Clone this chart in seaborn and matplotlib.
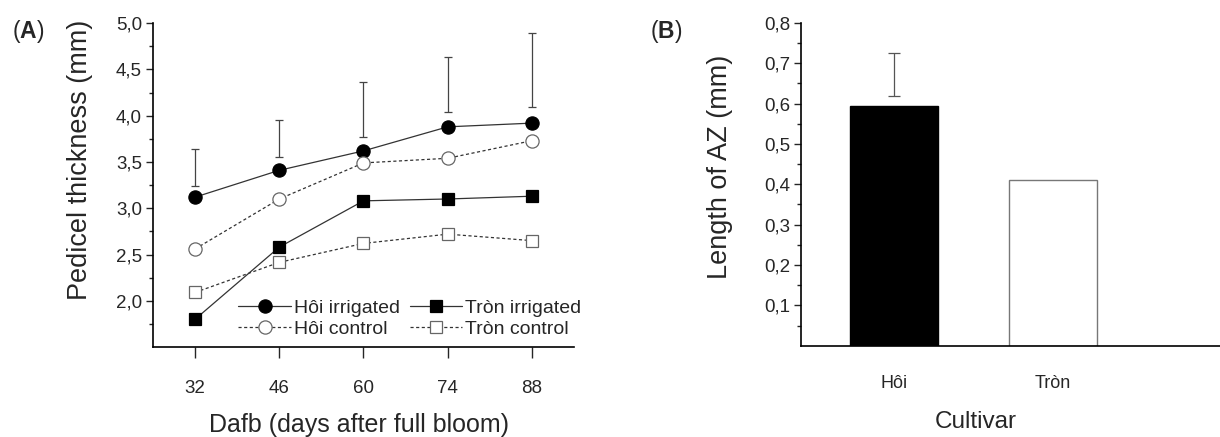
import matplotlib
matplotlib.use('Agg')
import matplotlib.pyplot as plt
import seaborn as sns
import numpy as np
import pandas as pd
from matplotlib.ticker import FixedLocator, FuncFormatter

# ---------------- data ----------------
dafb = [32, 46, 60, 74, 88]
hoi_irrigated = [3.12, 3.41, 3.62, 3.88, 3.92]
hoi_control = [2.56, 3.10, 3.49, 3.54, 3.73]
tron_irrigated = [1.80, 2.58, 3.08, 3.10, 3.13]
tron_control = [2.09, 2.415, 2.62, 2.72, 2.65]
hoi_irr_err_low = [3.24, 3.55, 3.77, 4.04, 4.09]
hoi_irr_err_high = [3.64, 3.95, 4.36, 4.64, 4.89]

cultivars = ['Hôi', 'Tròn']
az_length = [0.595, 0.41]
az_err_cultivar = 'Hôi'
az_err_low = 0.619
az_err_high = 0.724

yticks_A = [2.0, 2.5, 3.0, 3.5, 4.0, 4.5, 5.0]
yticks_B = [0.1, 0.2, 0.3, 0.4, 0.5, 0.6, 0.7, 0.8]

# ---------------- style ----------------
sns.set_style('ticks')
plt.rcParams['font.family'] = ['Liberation Sans', 'DejaVu Sans']
plt.rcParams['mathtext.fontset'] = 'custom'
plt.rcParams['mathtext.rm'] = 'Liberation Sans'
plt.rcParams['mathtext.bf'] = 'Liberation Sans:bold'

comma = FuncFormatter(lambda v, p: f"{v:.1f}".replace('.', ','))

fig = plt.figure(figsize=(12.2, 4.37), dpi=100)
axA = fig.add_axes([0.1254, 0.2059, 0.3451, 0.741])
axB = fig.add_axes([0.6566, 0.2089, 0.3434, 0.739])

# ---------------- panel A ----------------
series = [
    ('Hôi irrigated', hoi_irrigated, 'o', '-', True),
    ('Hôi control', hoi_control, 'o', (0, (2.5, 2)), False),
    ('Tròn irrigated', tron_irrigated, 's', '-', True),
    ('Tròn control', tron_control, 's', (0, (2.5, 2)), False),
]
for label, vals, mk, ls, filled in series:
    sns.lineplot(x=dafb, y=vals, ax=axA, label=label,
                 color='#333333', linestyle=ls, linewidth=0.9,
                 marker=mk, markersize=9.5 if mk == 'o' else 9,
                 markerfacecolor='black' if filled else 'white',
                 markeredgecolor='black' if filled else '#666666',
                 markeredgewidth=0.9, zorder=3)

lo = np.array(hoi_irr_err_low)
hi = np.array(hoi_irr_err_high)
axA.errorbar(dafb, (lo + hi) / 2, yerr=(hi - lo) / 2, fmt='none',
             ecolor='#444444', elinewidth=0.9, capsize=3, capthick=0.9, zorder=2)

axA.set_xlim(25, 95)
axA.set_ylim(1.5, 5.0)
axA.set_xticks(dafb)
axA.yaxis.set_major_locator(FixedLocator(yticks_A))
axA.yaxis.set_minor_locator(FixedLocator([t - 0.25 for t in yticks_A]))
axA.yaxis.set_major_formatter(comma)
axA.tick_params(axis='x', length=8, width=1, pad=16, labelsize=13.5, direction='out')
axA.tick_params(axis='y', which='major', length=5, width=1, pad=3, labelsize=13.5)
axA.tick_params(axis='y', which='minor', length=3, width=1)
for s in ['top', 'right']:
    axA.spines[s].set_visible(False)
for s in ['left', 'bottom']:
    axA.spines[s].set_linewidth(1.2)
    axA.spines[s].set_color('black')

axA.set_ylabel('Pedicel thickness (mm)', fontsize=19.5)
axA.yaxis.set_label_coords(-0.1425, 0.577)
axA.set_xlabel('Dafb (days after full bloom)', fontsize=18)
axA.xaxis.set_label_coords(0.49, -0.204)

h, l = axA.get_legend_handles_labels()
axA.legend(h, l, ncol=2, frameon=False, loc='center',
           bbox_to_anchor=(0.61, 0.088), fontsize=14,
           handlelength=2.7, handletextpad=0.15, columnspacing=0.5,
           labelspacing=0.2, borderpad=0, numpoints=1)

# ---------------- panel B ----------------
df = pd.DataFrame({'Cultivar': cultivars, 'Length': az_length})
sns.barplot(data=df, x='Cultivar', y='Length', hue='Cultivar',
            palette=['black', 'white'], width=0.553, ax=axB,
            legend=False, errorbar=None, linewidth=1)
bar_edges = ['black', '#777777']
for p, ec in zip(axB.patches, bar_edges):
    p.set_edgecolor(ec)

xi = cultivars.index(az_err_cultivar)
axB.errorbar([xi], [(az_err_low + az_err_high) / 2],
             yerr=[(az_err_high - az_err_low) / 2], fmt='none',
             ecolor='#555555', elinewidth=0.9, capsize=4, capthick=0.9)

axB.set_xlim(-0.585, 2.05)
axB.set_ylim(0, 0.8)
axB.yaxis.set_major_locator(FixedLocator(yticks_B))
axB.yaxis.set_minor_locator(FixedLocator([t - 0.05 for t in yticks_B]))
axB.yaxis.set_major_formatter(comma)
axB.tick_params(axis='x', length=0, pad=21, labelsize=13)
axB.tick_params(axis='y', which='major', length=5, width=1, pad=3, labelsize=13.5)
axB.tick_params(axis='y', which='minor', length=3, width=1)
for s in ['top', 'right']:
    axB.spines[s].set_visible(False)
for s in ['left', 'bottom']:
    axB.spines[s].set_linewidth(1.2)
    axB.spines[s].set_color('black')

axB.set_ylabel('Length of AZ (mm)', fontsize=19.5)
axB.yaxis.set_label_coords(-0.162, 0.553)
axB.set_xlabel('Cultivar', fontsize=17.5)
axB.xaxis.set_label_coords(0.418, -0.202)

# panel letters
fig.text(0.023, 0.929, r'($\mathbf{A}$)', fontsize=16.5, ha='center', va='center')
fig.text(0.546, 0.929, r'($\mathbf{B}$)', fontsize=16.5, ha='center', va='center')

fig.savefig('out.png', dpi=100)
